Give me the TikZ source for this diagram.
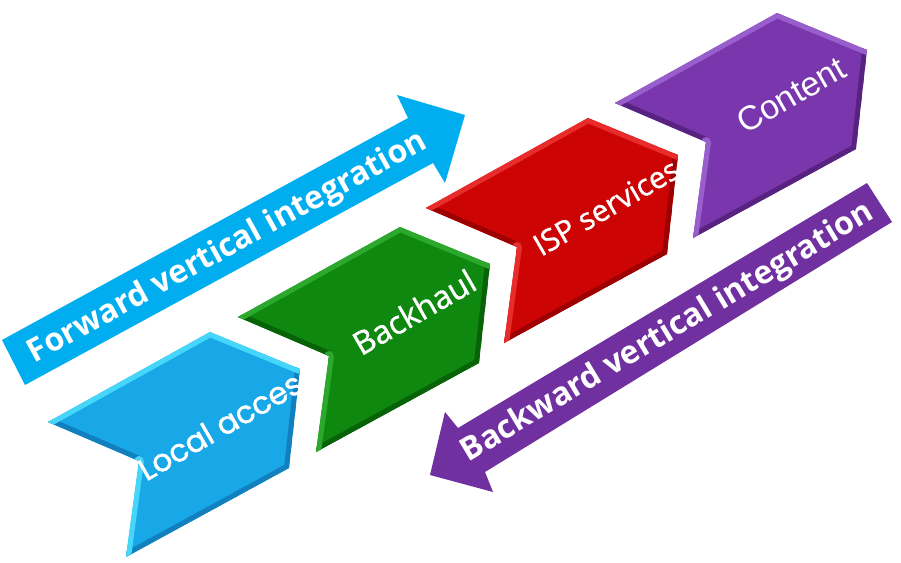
\documentclass[tikz,border=0pt]{standalone}
\usepackage{fontspec}
\setmainfont{Open Sans}
\newfontfamily\chevfont{Open Sans}[FakeBold=1.2]
\newfontfamily\geofont{Poppins}[FakeBold=1.4]
\newfontfamily\arialfont{Liberation Sans}

\definecolor{fwdblue}{RGB}{0,174,239}
\definecolor{bwdpurple}{RGB}{112,48,160}
\definecolor{accmain}{RGB}{24,168,232}
\definecolor{acclight}{RGB}{70,214,250}
\definecolor{accdark}{RGB}{18,128,190}
\definecolor{bhmain}{RGB}{14,136,14}
\definecolor{bhlight}{RGB}{44,168,44}
\definecolor{bhdark}{RGB}{8,98,8}
\definecolor{ispmain}{RGB}{204,4,4}
\definecolor{isplight}{RGB}{232,44,44}
\definecolor{ispdark}{RGB}{156,0,0}
\definecolor{cntmain}{RGB}{122,54,172}
\definecolor{cntlight}{RGB}{152,94,204}
\definecolor{cntdark}{RGB}{88,34,128}

\tikzset{
  bandlight/.style={line width=10pt, line join=round, line cap=round},
  banddark/.style={line width=10pt, line join=round, line cap=round},
  chevlabel/.style={text=white, inner sep=0pt, rotate=30},
  arrowlabel/.style={text=white, inner sep=0pt, font=\bfseries\fontsize{32}{33}\selectfont},
}

% One bevelled chevron: #1 = top vertex, #2 main, #3 light, #4 dark colour
\newcommand\chevronblock[4]{%
  \begin{scope}[shift={#1}]
    \coordinate (cL)  at (-162,90);
    \coordinate (cT)  at (0,0);
    \coordinate (cRT) at (90,37);
    \coordinate (cRB) at (79,136);
    \coordinate (cB)  at (-84,225);
    \coordinate (cN)  at (-71,129);
    \begin{scope}
      \clip (cL) -- (cT) -- (cRT) -- (cRB) -- (cB) -- (cN) -- cycle;
      \fill[#2] (cL) -- (cT) -- (cRT) -- (cRB) -- (cB) -- (cN) -- cycle;
      \draw[banddark, #4] (cRT) -- (cRB) -- (cB) (cN) -- (cL);
      \draw[bandlight, #3] (cL) -- (cT) -- (cRT) (cB) -- (cN);
    \end{scope}
  \end{scope}}

\begin{document}
\begin{tikzpicture}[x=1pt,y=-1pt]
\useasboundingbox (0,0) rectangle (901,562);

% value-chain chevrons
\chevronblock{(210,332)}{accmain}{acclight}{accdark}
\node[chevlabel, font=\geofont\fontsize{31}{32}\selectfont] (local) at (227,422) {Local access};
\chevronblock{(400,227)}{bhmain}{bhlight}{bhdark}
\node[chevlabel, font=\chevfont\fontsize{32}{33}\selectfont] (backhaul) at (414,312) {Backhaul};
\chevronblock{(588,118)}{ispmain}{isplight}{ispdark}
\node[chevlabel, font=\chevfont\fontsize{30}{31}\selectfont] (isp) at (606,207) {ISP services};
\chevronblock{(777,13)}{cntmain}{cntlight}{cntdark}
\node[chevlabel, font=\arialfont\fontsize{34}{35}\selectfont] (content) at (791,95) {Content};

% forward arrow
\coordinate (fa1) at (2,340);
\coordinate (fa2) at (408,118);
\coordinate (fa3) at (397,95);
\coordinate (fa4) at (465,115);
\coordinate (fa5) at (445,183);
\coordinate (fa6) at (433,163);
\coordinate (fa7) at (25,385);
\fill[fwdblue] (fa1) -- (fa2) -- (fa3) -- (fa4) -- (fa5) -- (fa6) -- (fa7) -- cycle;
\node[arrowlabel, rotate=28.7] (fwd) at (228,248) {Forward vertical integration};

% backward arrow
\coordinate (ba1) at (867,183);
\coordinate (ba2) at (458,428);
\coordinate (ba3) at (445,412);
\coordinate (ba4) at (430,475);
\coordinate (ba5) at (493,492);
\coordinate (ba6) at (485,472);
\coordinate (ba7) at (892,222);
\fill[bwdpurple] (ba1) -- (ba2) -- (ba3) -- (ba4) -- (ba5) -- (ba6) -- (ba7) -- cycle;
\node[arrowlabel, rotate=31] (bwd) at (668,333) {Backward vertical integration};
\end{tikzpicture}
\end{document}
